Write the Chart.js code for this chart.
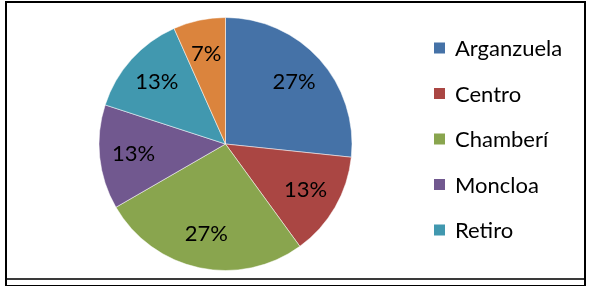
<!DOCTYPE html>
<html>
<head>
<meta charset="utf-8">
<script src="https://cdn.jsdelivr.net/npm/chart.js@4/dist/chart.umd.min.js"></script>
<style>
	html, body { margin: 0; padding: 0; background: #fff; }
	#wrap { position: relative; width: 589px; height: 289px; }
	#frame { position: absolute; left: 5px; top: 1px; width: 577px; height: 282px; border: 2px solid #000; border-bottom-width: 1px; box-sizing: content-box; }
	#rule { position: absolute; left: 7px; top: 278px; width: 577px; height: 2px; background: #3a3a3a; }
	canvas { position: absolute; left: 0; top: 0; }
</style>
</head>
<body>
<div id="wrap">
	<canvas id="chart1" width="589" height="289"></canvas>
	<div id="frame"></div>
	<div id="rule"></div>
</div>
<script>
	"use strict";

	// data
	var labels = ["Arganzuela", "Centro", "Chamberí", "Moncloa", "Retiro", ""];
	var values = [4, 2, 4, 2, 2, 1];
	var colors = ["#4572A7", "#AA4643", "#89A54E", "#71588F", "#4198AF", "#DB843D"];
	var legendCount = 5;

	var FONT = "Lato, 'Open Sans', sans-serif";

	// percent labels inside the slices
	var sliceLabels = {
		id: "sliceLabels",
		afterDatasetsDraw: function (chart) {
			var ctx = chart.ctx;
			var meta = chart.getDatasetMeta(0);
			var total = values.reduce(function (a, b) { return a + b; }, 0);
			ctx.save();
			ctx.font = "22px " + FONT;
			ctx.fillStyle = "#000";
			ctx.textAlign = "center";
			ctx.textBaseline = "middle";
			meta.data.forEach(function (arc, i) {
				var p = arc.getProps(["x", "y", "startAngle", "endAngle", "outerRadius"], true);
				var mid = (p.startAngle + p.endAngle) / 2;
				var r = p.outerRadius * 0.73;
				var pct = Math.round(values[i] / total * 100) + "%";
				ctx.fillText(pct, p.x + Math.cos(mid) * r, p.y + Math.sin(mid) * r);
			});
			ctx.restore();
		}
	};

	// legend on the right
	var sideLegend = {
		id: "sideLegend",
		afterDraw: function (chart) {
			var ctx = chart.ctx;
			ctx.save();
			ctx.font = "22px " + FONT;
			ctx.textBaseline = "middle";
			for (var i = 0; i < legendCount; i++) {
				var y = 48 + i * 45.5;
				ctx.fillStyle = colors[i];
				ctx.fillRect(434, y - 5.5, 11, 11);
				ctx.fillStyle = "#000";
				ctx.fillText(labels[i], 455, y + 1);
			}
			ctx.restore();
		}
	};

	new Chart(document.getElementById("chart1"), {
		type: "pie",
		data: {
			labels: labels,
			datasets: [{
				data: values,
				backgroundColor: colors,
				borderColor: "rgba(255,255,255,0.5)",
				borderWidth: 1
			}]
		},
		options: {
			responsive: false,
			animation: false,
			layout: { padding: { left: 98, right: 236, top: 17, bottom: 18 } },
			plugins: {
				legend: { display: false },
				tooltip: { enabled: false }
			}
		},
		plugins: [sliceLabels, sideLegend]
	});
</script>
</body>
</html>
